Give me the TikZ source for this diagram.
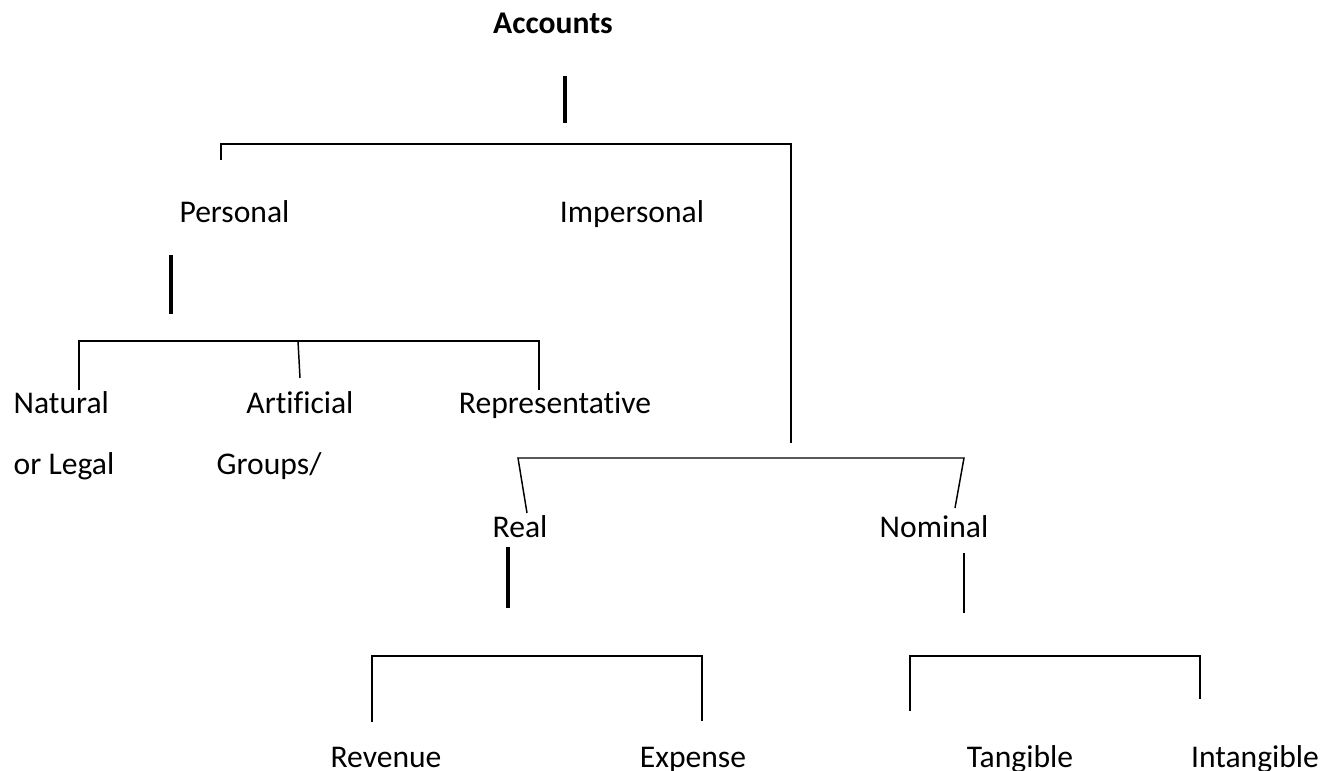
\documentclass[tikz,border=0pt]{standalone}
\usepackage{fontspec}
\setmainfont{Carlito}[RawFeature=-liga]

\begin{document}
\begin{tikzpicture}[x=0.75pt, y=-0.75pt, line width=1.1pt,
  lbl/.style={anchor=base, inner sep=0pt, font=\fontsize{23.7}{28}\selectfont},
  lblw/.style={lbl, anchor=base west},
  bar/.style={line width=3.2pt}]
\useasboundingbox (0,0) rectangle (1336,771);

% labels
\node[lbl, font=\fontsize{23.7}{28}\selectfont\bfseries] (acc) at (553,33) {Accounts};
\node[lbl] (pers)  at (234.5,222) {Personal};
\node[lbl] (imp)   at (632,222)   {Impersonal};
\node[lblw] (nat)  at (13,413)    {Natural};
\node[lblw] (natb) at (13,474)    {or Legal};
\node[lbl] (art)   at (300,413)   {Artificial};
\node[lblw] (artb) at (216,474)   {Groups/};
\node[lbl] (rep)   at (555,413)   {Representative};
\node[lbl] (real)  at (520,537)   {Real};
\node[lbl] (nom)   at (934,537)   {Nominal};
\node[lbl] (rev)   at (386,767)   {Revenue};
\node[lbl] (exp)   at (693,767)   {Expense};
\node[lbl] (tang)  at (1020,767)  {Tangible};
\node[lbl] (intg)  at (1255,767)  {Intangible};

% ends of the lines
\coordinate (accT) at (565,76);   \coordinate (accB) at (565,123);
\coordinate (perL) at (221,160);  \coordinate (perC) at (221,144);
\coordinate (impC) at (791,144);  \coordinate (impB) at (791,443);
\coordinate (perT) at (171,255);  \coordinate (perB) at (171,314);
\coordinate (natB) at (79,390);   \coordinate (natC) at (79,341);
\coordinate (artT) at (298,341);  \coordinate (artB) at (300,378);
\coordinate (repC) at (539,341);  \coordinate (repB) at (539,390);
\coordinate (realC) at (518,458); \coordinate (realB) at (527,513);
\coordinate (nomC) at (964,458);  \coordinate (nomB) at (955,508);
\coordinate (realT) at (508,547); \coordinate (realD) at (508,608);
\coordinate (nomT) at (964,553);  \coordinate (nomD) at (964,613);
\coordinate (revB) at (372,722);  \coordinate (revC) at (372,656);
\coordinate (expC) at (702,656);  \coordinate (expB) at (702,721);
\coordinate (tanB) at (910,711);  \coordinate (tanC) at (910,656);
\coordinate (intC) at (1200,656); \coordinate (intB) at (1200,699);

% Accounts
\draw[bar] (accT) -- (accB);
\draw (perL) -- (perC) -- (impC) -- (impB);
% Personal
\draw[bar] (perT) -- (perB);
\draw (natB) -- (natC) -- (repC) -- (repB);
\draw (artT) -- (artB);
% Impersonal
\draw (realB) -- (realC) -- (nomC) -- (nomB);
% Real and Nominal
\draw[bar] (realT) -- (realD);
\draw (nomT) -- (nomD);
\draw (revB) -- (revC) -- (expC) -- (expB);
\draw (tanB) -- (tanC) -- (intC) -- (intB);
\end{tikzpicture}
\end{document}
